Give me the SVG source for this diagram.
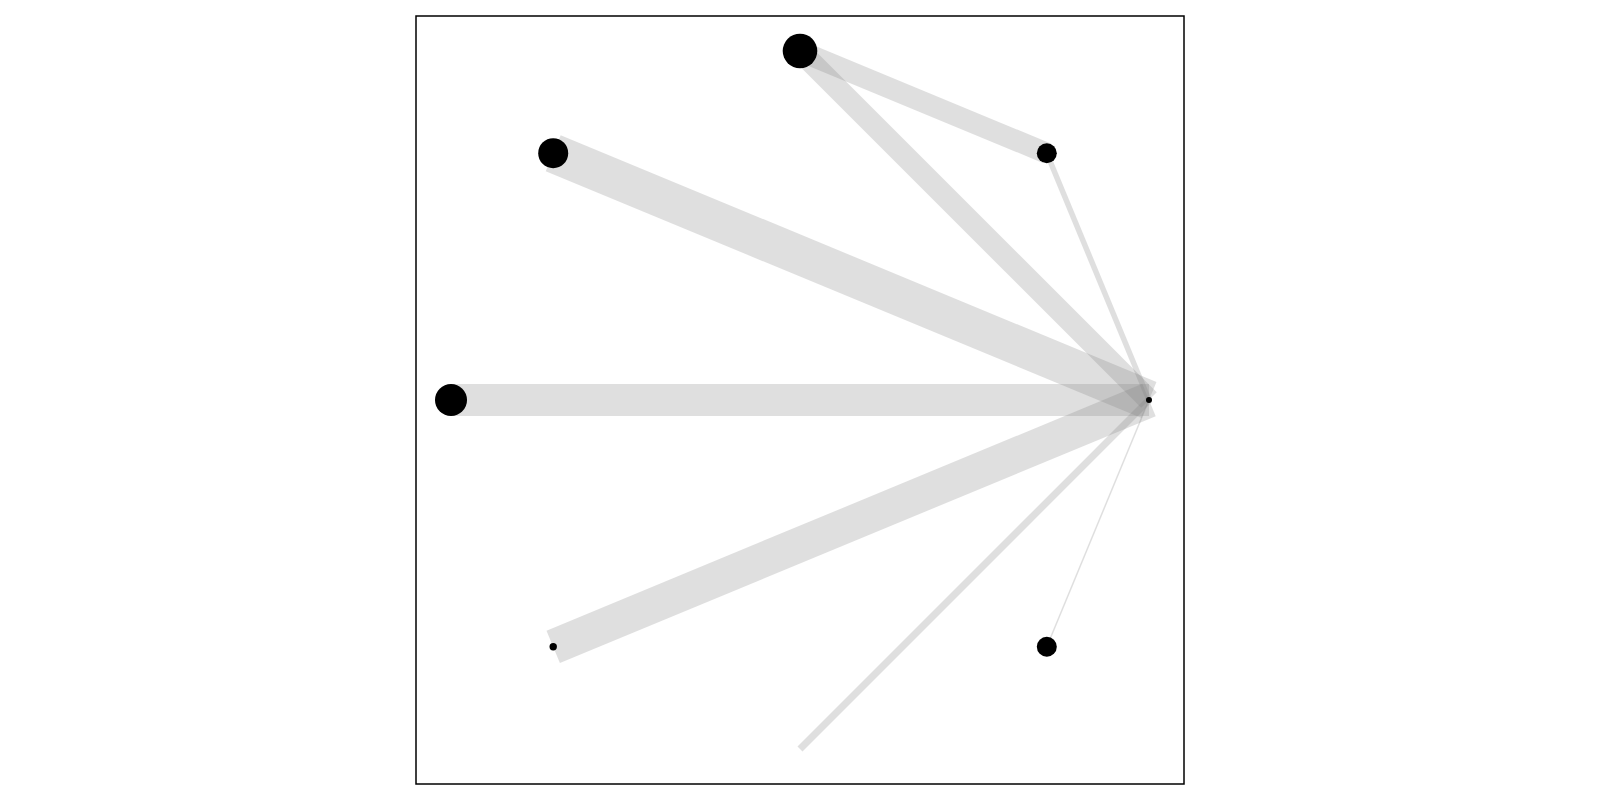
<svg xmlns="http://www.w3.org/2000/svg" width="1600" height="800" viewBox="0 0 1600 800">
<style>
.edge{stroke:#808080;stroke-opacity:0.25;stroke-linecap:butt;fill:none}
.node{fill:#000}
.frame{fill:none;stroke:#000;stroke-width:1.5}
</style>
<rect x="0" y="0" width="1600" height="800" fill="#fff"/>
<rect class="frame" x="416" y="16" width="768" height="768"/>
<g id="connectors">
<line class="edge" x1="451" y1="400" x2="1149" y2="400" stroke-width="32"/>
<line class="edge" x1="553.2" y1="153.2" x2="1149" y2="400" stroke-width="39"/>
<line class="edge" x1="553.2" y1="646.8" x2="1149" y2="400" stroke-width="35"/>
<line class="edge" x1="800" y1="51" x2="1149" y2="400" stroke-width="22"/>
<line class="edge" x1="800" y1="749" x2="1149" y2="400" stroke-width="7"/>
<line class="edge" x1="1046.8" y1="153.2" x2="1149" y2="400" stroke-width="5.5"/>
<line class="edge" x1="1046.8" y1="646.8" x2="1149" y2="400" stroke-width="1.5"/>
<line class="edge" x1="800" y1="51" x2="1046.8" y2="153.2" stroke-width="21"/>
</g>
<g id="n0"><circle class="node" cx="1149" cy="400" r="3"/></g>
<g id="n1"><circle class="node" cx="1046.8" cy="153.2" r="10"/></g>
<g id="n2"><circle class="node" cx="800" cy="51" r="17.3"/></g>
<g id="n3"><circle class="node" cx="553.2" cy="153.2" r="15"/></g>
<g id="n4"><circle class="node" cx="451" cy="400" r="16"/></g>
<g id="n5"><circle class="node" cx="553.2" cy="646.8" r="3.7"/></g>
<g id="n6"><circle class="node" cx="800" cy="749" r="0"/></g>
<g id="n7"><circle class="node" cx="1046.8" cy="646.8" r="10"/></g>
</svg>
